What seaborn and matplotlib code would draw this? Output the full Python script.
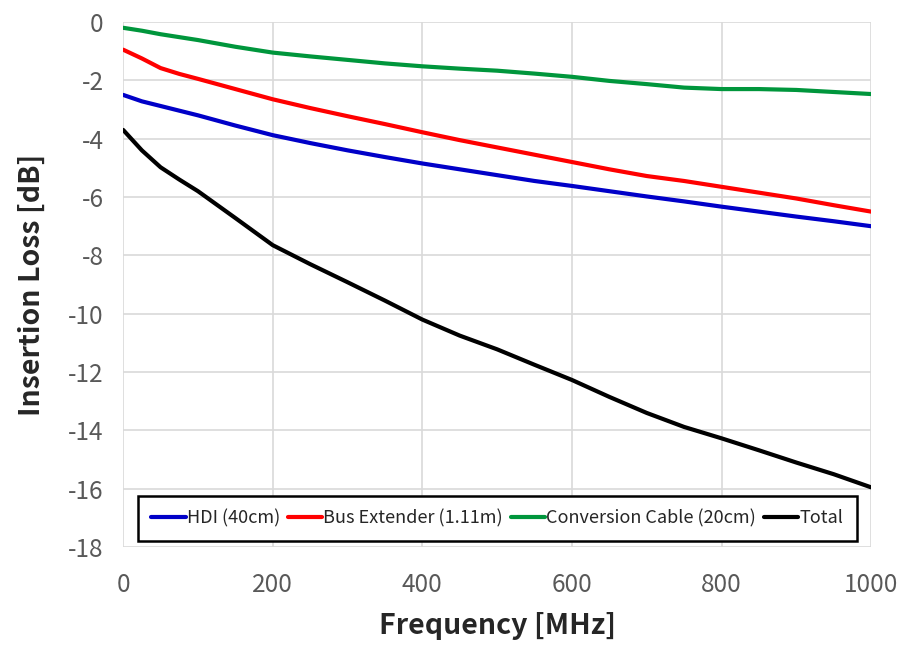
# coding:utf-8
# insertion loss vs frequency

import numpy as np
import pandas as pd
import matplotlib
matplotlib.use("Agg")
import matplotlib.pyplot as plt
import seaborn as sns

sns.set_style("whitegrid")
plt.rcParams['font.family'] = ['Noto Sans CJK JP', 'DejaVu Sans']
plt.rcParams['axes.unicode_minus'] = False

# data
freq_mhz = [0, 25, 50, 75, 100, 150, 200, 250, 300, 350, 400, 450, 500,
            550, 600, 650, 700, 750, 800, 850, 900, 950, 1000]
hdi_40cm = [-2.5, -2.72, -2.88, -3.04, -3.2, -3.55, -3.88, -4.15, -4.4, -4.63,
            -4.85, -5.05, -5.25, -5.45, -5.62, -5.8, -5.98, -6.15, -6.33,
            -6.5, -6.67, -6.83, -7.0]
bus_ext = [-0.95, -1.25, -1.58, -1.78, -1.95, -2.3, -2.65, -2.95, -3.23, -3.5,
           -3.78, -4.05, -4.3, -4.55, -4.8, -5.05, -5.28, -5.45, -5.65, -5.85,
           -6.05, -6.28, -6.5]
conv_cable = [-0.2, -0.3, -0.42, -0.52, -0.62, -0.85, -1.05, -1.18, -1.3,
              -1.42, -1.52, -1.6, -1.67, -1.77, -1.88, -2.02, -2.13, -2.25,
              -2.3, -2.3, -2.33, -2.4, -2.47]
total = [-3.7, -4.4, -4.98, -5.4, -5.8, -6.72, -7.65, -8.3, -8.92, -9.55,
         -10.2, -10.75, -11.22, -11.75, -12.27, -12.85, -13.4, -13.88, -14.27,
         -14.68, -15.1, -15.5, -15.95]

labels = ["HDI (40cm)", "Bus Extender (1.11m)", "Conversion Cable (20cm)", "Total"]
colors = ["#0000C8", "#FF0000", "#00963C", "#000000"]

df = pd.concat([
    pd.DataFrame({"freq": freq_mhz, "loss": vals, "name": name})
    for name, vals in zip(labels, [hdi_40cm, bus_ext, conv_cable, total])
])

fig = plt.figure(figsize=(8.99, 6.46), dpi=100)
ax = fig.add_axes([0.137, 0.153, 0.832, 0.813])

sns.lineplot(data=df, x="freq", y="loss", hue="name", hue_order=labels,
             palette=colors, linewidth=3, ax=ax)

ax.set_xlim(0, 1000)
ax.set_ylim(-18, 0)
ax.set_xticks(np.arange(0, 1001, 200))
ax.set_yticks(np.arange(-18, 1, 2))
ax.grid(True, color="#D9D9D9", linewidth=1.2)
for s in ax.spines.values():
    s.set_visible(False)
ax.tick_params(axis='both', labelsize=17.5, colors="#595959", length=0)
ax.tick_params(axis='x', pad=18)
ax.tick_params(axis='y', pad=14)

ax.set_xlabel("Frequency [MHz]", fontsize=20.5, fontweight="bold", labelpad=10)
ax.set_ylabel("Insertion Loss [dB]", fontsize=20.5, fontweight="bold", labelpad=16)

leg = ax.legend(loc="lower center", bbox_to_anchor=(0.5, 0.0), ncol=4,
                fontsize=13, frameon=True, fancybox=False, handlelength=1.9,
                handletextpad=0.05, columnspacing=0.45, borderpad=0.75,
                borderaxespad=0.35)
leg.get_frame().set_edgecolor("black")
leg.get_frame().set_linewidth(1.8)
leg.get_frame().set_alpha(1)

plt.savefig("out.png", dpi=100)
